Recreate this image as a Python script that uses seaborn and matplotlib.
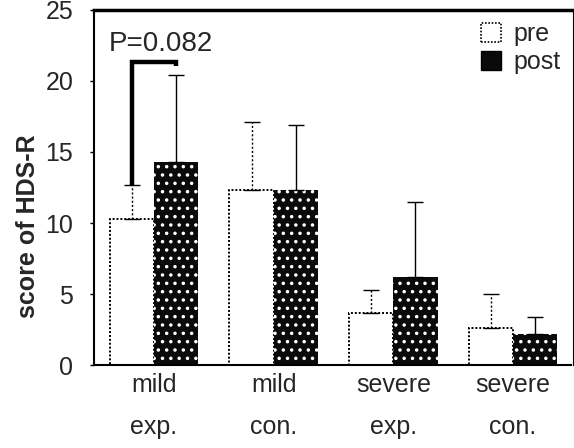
import matplotlib
matplotlib.use("Agg")
import matplotlib.pyplot as plt
import matplotlib.patches as mpatches
import seaborn as sns
import pandas as pd
import numpy as np

groups = ["mild\nexp.", "mild\ncon.", "severe\nexp.", "severe\ncon."]
phases = ["pre", "post"]
pre_mean = [10.3, 12.3, 3.7, 2.6]
pre_sd = [2.4, 4.8, 1.6, 2.4]
post_mean = [14.3, 12.3, 6.2, 2.2]
post_sd = [6.1, 4.6, 5.3, 1.2]
p_text = "P=0.082"
bracket_top = 21.3
yticks = [0, 5, 10, 15, 20, 25]

df = pd.DataFrame({
    "group": groups * 2,
    "phase": ["pre"] * 4 + ["post"] * 4,
    "score": pre_mean + post_mean,
})

sns.set_theme(style="white")
plt.rcParams["font.family"] = ["Liberation Sans", "DejaVu Sans"]
plt.rcParams["hatch.linewidth"] = 1.3

fig = plt.figure(figsize=(5.74, 4.48), dpi=100)
ax = fig.add_axes([0.164, 0.185, 0.834, 0.793])

sns.barplot(data=df, x="group", y="score", hue="phase", hue_order=phases,
            order=groups, width=0.74, gap=0.0, errorbar=None, ax=ax,
            legend=False)

bars = ax.patches
pre_bars = bars[:4]
post_bars = bars[4:8]
for p in pre_bars:
    p.set_facecolor("white")
    p.set_edgecolor("black")
    p.set_linestyle((0, (1, 1)))
    p.set_linewidth(1.4)
for p in post_bars:
    p.set_facecolor("#0a0a0a")
    p.set_edgecolor("white")
    p.set_hatch("..")
    p.set_linewidth(0)

def centers(ps):
    return [p.get_x() + p.get_width() / 2 for p in ps]

pre_x = centers(pre_bars)
post_x = centers(post_bars)

ax.errorbar(pre_x, pre_mean, yerr=[np.zeros(4), pre_sd], fmt="none",
            ecolor="black", elinewidth=1.0, capsize=6, capthick=1.0,
            zorder=1)
ax.collections[0].set_linestyle((0, (1.5, 1.5)))
ax.errorbar(post_x, post_mean, yerr=[np.zeros(4), post_sd], fmt="none",
            ecolor="black", elinewidth=1.0, capsize=6, capthick=1.0,
            zorder=1)

ax.plot([pre_x[0], pre_x[0], post_x[0], post_x[0]],
        [pre_mean[0] + pre_sd[0], bracket_top, bracket_top, bracket_top - 0.25],
        color="black", lw=3.2, solid_capstyle="butt", solid_joinstyle="miter",
        zorder=5)
ax.text(pre_x[0] - 0.19, bracket_top + 0.4, p_text, fontsize=20,
        ha="left", va="bottom")

ax.set_xlim(-0.5, 3.5)
ax.set_ylim(0, 25)
ax.set_yticks(yticks)
ax.set_yticklabels([str(t) for t in yticks], fontsize=18)
ax.set_xticks(range(4))
ax.set_xticklabels(groups, fontsize=18, linespacing=1.9, va="top")
ax.tick_params(axis="y", which="major", direction="out", length=3, width=1,
               color="black", pad=12, left=True)
ax.tick_params(axis="x", length=0, pad=6)
ax.set_xlabel("")
ax.set_ylabel("score of HDS-R", fontsize=18, fontweight="bold", labelpad=4)
ax.yaxis.label.set_y(0.39)

for side in ["left", "bottom", "right"]:
    ax.spines[side].set_linestyle((0, (1, 1)))
    ax.spines[side].set_linewidth(1.5)
    ax.spines[side].set_color("black")
ax.spines["right"].set_linewidth(0.8)
ax.spines["top"].set_color("black")
ax.spines["top"].set_linewidth(2.5)

handles = [
    mpatches.Patch(facecolor="white", edgecolor="black", linestyle=(0, (1, 1)),
                   linewidth=1.2, label=phases[0]),
    mpatches.Patch(facecolor="#0a0a0a", edgecolor="black", label=phases[1]),
]
ax.legend(handles=handles, loc="upper right", frameon=False, fontsize=18,
          handlelength=0.8, handleheight=0.8, handletextpad=0.5,
          labelspacing=0.15, borderaxespad=0.1)

fig.savefig("out.png", dpi=100)
